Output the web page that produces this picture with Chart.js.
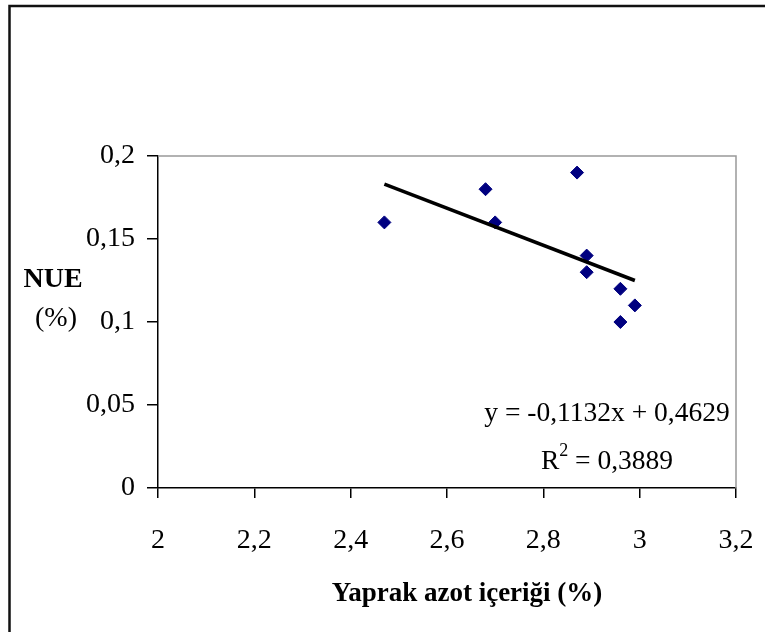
<!DOCTYPE html>
<html>
<head>
<meta charset="utf-8">
<script src="https://cdn.jsdelivr.net/npm/chart.js@4"></script>
<style>
  html, body { margin: 0; padding: 0; background: #fff; }
  #wrap { width: 765px; height: 632px; }
</style>
</head>
<body>
<div id="wrap"><canvas id="c" width="765" height="632"></canvas></div>
<script>
// leaf N content (%) vs NUE (%)
const azot = [2.47, 2.68, 2.70, 2.87, 2.89, 2.89, 2.96, 2.96, 2.99];
const nue  = [0.16, 0.18, 0.16, 0.19, 0.14, 0.13, 0.12, 0.10, 0.11];
// linear trend, end points
const trendX = [2.47, 2.99];
const trendY = [0.183, 0.125];
const xTicks = [2, 2.2, 2.4, 2.6, 2.8, 3, 3.2];
const yTicks = [0, 0.05, 0.1, 0.15, 0.2];
const eqText = "y = -0,1132x + 0,4629";
const r2Text = "0,3889";

const SERIF = "'Liberation Serif', 'Times New Roman', serif";
const comma = v => String(Math.round(v * 100) / 100).replace(".", ",");

// frame, plot box top/right edges, titles and the equation box
const extras = {
    id: "extras",
    beforeDraw(chart) {
        const ctx = chart.ctx;
        ctx.save();
        ctx.strokeStyle = "#111";
        ctx.lineWidth = 2.5;
        ctx.beginPath();
        ctx.moveTo(9.5, 640); ctx.lineTo(9.5, 6); ctx.lineTo(770, 6);
        ctx.stroke();
        ctx.restore();
    },
    afterDraw(chart) {
        const ctx = chart.ctx, a = chart.chartArea;
        ctx.save();
        ctx.strokeStyle = "#999";
        ctx.lineWidth = 1.5;
        ctx.beginPath();
        ctx.moveTo(a.left, a.top); ctx.lineTo(a.right, a.top); ctx.lineTo(a.right, a.bottom);
        ctx.stroke();

        ctx.fillStyle = "#000";
        ctx.textAlign = "center";
        ctx.textBaseline = "middle";
        ctx.font = "bold 28px " + SERIF;
        ctx.fillText("NUE", 53, 280);
        ctx.font = "28px " + SERIF;
        ctx.fillText("(%)", 56, 319);
        ctx.font = "bold 27px " + SERIF;
        ctx.fillText("Yaprak azot içeriği (%)", 467, 594);

        ctx.font = "27.5px " + SERIF;
        ctx.fillText(eqText, 607, 414);
        // R² = ...
        const rW = ctx.measureText("R").width;
        ctx.font = "18px " + SERIF;
        const sW = ctx.measureText("2").width;
        ctx.font = "27.5px " + SERIF;
        const restW = ctx.measureText(" = " + r2Text).width;
        let x0 = 607 - (rW + sW + restW) / 2;
        ctx.textAlign = "left";
        ctx.fillText("R", x0, 462);
        ctx.font = "18px " + SERIF;
        ctx.fillText("2", x0 + rW, 451);
        ctx.font = "27.5px " + SERIF;
        ctx.fillText(" = " + r2Text, x0 + rW + sW, 462);
        ctx.restore();
    }
};

new Chart(document.getElementById("c"), {
    type: "scatter",
    data: {
        datasets: [
            {
                label: "NUE",
                data: azot.map((x, i) => ({ x, y: nue[i] })),
                pointStyle: "rectRot",
                pointRadius: 6.5,
                pointHoverRadius: 6.5,
                backgroundColor: "#000080",
                borderColor: "#000080",
                borderWidth: 1,
                order: 2,
            },
            {
                type: "line",
                label: "trend",
                data: trendX.map((x, i) => ({ x, y: trendY[i] })),
                borderColor: "#000",
                borderWidth: 3.5,
                pointRadius: 0,
                fill: false,
                order: 1,
            },
        ],
    },
    options: {
        responsive: false,
        animation: false,
        layout: { padding: { top: 156, right: 29, left: 0, bottom: 0 } },
        plugins: { legend: { display: false }, tooltip: { enabled: false } },
        scales: {
            x: {
                type: "linear", min: 2, max: 3.2,
                afterBuildTicks: s => { s.ticks = xTicks.map(v => ({ value: v })); },
                afterFit: s => { s.height = 144; s.paddingLeft = 0; s.paddingRight = 0; },
                grid: { drawOnChartArea: false, color: "#000", lineWidth: 1.5, tickLength: 10 },
                border: { color: "#000", width: 1.5 },
                ticks: {
                    color: "#000", padding: 26, maxRotation: 0,
                    font: { family: SERIF, size: 28 },
                    callback: v => comma(v),
                },
            },
            y: {
                type: "linear", min: 0, max: 0.2,
                afterBuildTicks: s => { s.ticks = yTicks.map(v => ({ value: v })); },
                afterFit: s => { s.width = 158; s.paddingTop = 0; s.paddingBottom = 0; },
                grid: { drawOnChartArea: false, color: "#000", lineWidth: 1.5, tickLength: 11 },
                border: { color: "#000", width: 1.5 },
                ticks: {
                    color: "#000", padding: 12,
                    font: { family: SERIF, size: 28 },
                    callback: v => comma(v),
                },
            },
        },
    },
    plugins: [extras],
});
</script>
</body>
</html>
